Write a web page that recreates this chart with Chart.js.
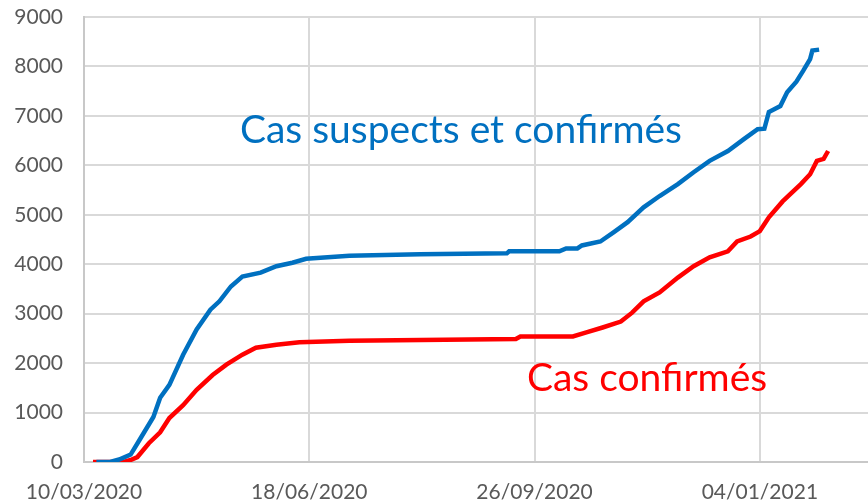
<!DOCTYPE html>
<html>
<head>
<meta charset="utf-8">
<script src="https://cdn.jsdelivr.net/npm/chart.js@4.4.0/dist/chart.umd.min.js"></script>
<style>
  html, body { margin: 0; padding: 0; background: #fff; }
  #wrap { width: 868px; height: 502px; }
</style>
</head>
<body>
<div id="wrap"><canvas id="myChart" width="868" height="502"></canvas></div>
<script>
// jours depuis le 10/03/2020
let tickDays = [0, 100, 200, 300];
let tickLabels = ["10/03/2020", "18/06/2020", "26/09/2020", "04/01/2021"];

// Cas suspects et confirmés
let suspDays = [5.5, 11.6, 15.6, 20.7, 24.7, 30.8, 33.8, 37.9, 44, 50, 56.1, 60.1, 65.2, 70.3, 78.4, 85.4, 92.5, 98.6, 117.8, 149.2, 187.7, 188.7, 211, 214, 219, 221, 229.2, 235.2, 241.3, 248.4, 255.5, 263.6, 270.6, 277.7, 285.8, 292.9, 299, 302, 304, 309.1, 312.1, 316.2, 319.2, 322.3, 323.3, 326.3];
let suspVals = [0, 0, 50, 150, 450, 910, 1300, 1560, 2170, 2680, 3080, 3250, 3550, 3750, 3830, 3960, 4030, 4110, 4170, 4200, 4220, 4260, 4260, 4320, 4320, 4380, 4460, 4650, 4850, 5150, 5380, 5620, 5860, 6090, 6290, 6530, 6730, 6740, 7080, 7200, 7480, 7690, 7910, 8150, 8320, 8340];

// Cas confirmés
let confDays = [4, 17.6, 20.7, 23.7, 28.8, 33.8, 37.9, 44, 50, 57.1, 63.2, 70.3, 76.3, 85.4, 95.6, 117.8, 191.7, 193.7, 217, 223, 230.2, 238.3, 243.3, 248.4, 255.5, 263.6, 270.6, 277.7, 285.8, 289.9, 295.9, 300, 304, 310.1, 318.2, 322.3, 325.3, 328.3, 330.3];
let confVals = [0, 0, 40, 100, 380, 600, 890, 1150, 1460, 1760, 1970, 2170, 2310, 2370, 2420, 2450, 2490, 2540, 2540, 2620, 2720, 2840, 3020, 3250, 3430, 3730, 3960, 4140, 4260, 4460, 4560, 4670, 4950, 5270, 5620, 5820, 6090, 6130, 6290];

let toPoints = (days, vals) => days.map((d, i) => ({x: d, y: vals[i]}));

// étiquettes posées dans le graphique (en coordonnées des axes)
let labelsPlugin = {
    id: 'labels',
    afterDatasetsDraw: (chart) => {
        let ctx = chart.ctx;
        let xs = chart.scales.x, ys = chart.scales.y;
        ctx.save();
        ctx.textBaseline = 'middle';
        ctx.textAlign = 'left';
        ctx.font = '39px Lato';
        ctx.fillStyle = '#0070C0';
        ctx.fillText('Cas suspects et confirmés', xs.getPixelForValue(69.2), ys.getPixelForValue(6700));
        ctx.fillStyle = '#FF0000';
        ctx.fillText('Cas confirmés', xs.getPixelForValue(196.6), ys.getPixelForValue(1700));
        ctx.restore();
    }
};

let newChart = () => {
    let ctx = document.getElementById('myChart').getContext('2d');
    Chart.defaults.font.family = 'Lato';
    Chart.defaults.color = '#595959';
    new Chart(ctx, {
        type: 'line',
        data: {
            datasets: [{
                label: 'Cas suspects et confirmés',
                data: toPoints(suspDays, suspVals),
                borderColor: '#0070C0',
                borderWidth: 4.5,
                pointRadius: 0,
                tension: 0
            }, {
                label: 'Cas confirmés',
                data: toPoints(confDays, confVals),
                borderColor: '#FF0000',
                borderWidth: 4.5,
                pointRadius: 0,
                tension: 0
            }]
        },
        options: {
            responsive: false,
            animation: false,
            layout: {padding: {top: 17, right: 0, left: 0, bottom: 0}},
            plugins: {legend: {display: false}, tooltip: {enabled: false}},
            scales: {
                x: {
                    type: 'linear',
                    min: 0,
                    max: 348,
                    afterBuildTicks: (scale) => { scale.ticks = tickDays.map(v => ({value: v})); },
                    afterFit: (scale) => { scale.height = 40; scale.paddingLeft = 0; scale.paddingRight = 0; },
                    ticks: {
                        font: {size: 21},
                        maxRotation: 0,
                        autoSkip: false,
                        padding: 18,
                        callback: (v) => tickLabels[tickDays.indexOf(v)]
                    },
                    grid: {color: '#d9d9d9', lineWidth: 2, drawTicks: false},
                    border: {color: '#c8c8c8', width: 2}
                },
                y: {
                    min: 0,
                    max: 9000,
                    afterFit: (scale) => { scale.width = 84; scale.paddingTop = 0; scale.paddingBottom = 0; },
                    ticks: {stepSize: 1000, font: {size: 21}, padding: 21, callback: (v) => String(v)},
                    grid: {color: '#d9d9d9', lineWidth: 2, drawTicks: false},
                    border: {color: '#c8c8c8', width: 2}
                }
            }
        },
        plugins: [labelsPlugin]
    });
};

newChart();
</script>
</body>
</html>
